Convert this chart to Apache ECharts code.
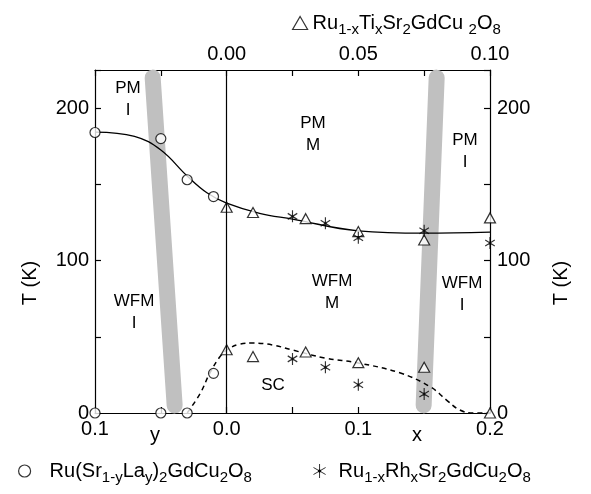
<!DOCTYPE html>
<html>
<head>
<meta charset="utf-8">
<script src="https://cdn.jsdelivr.net/npm/echarts@6/dist/echarts.min.js"></script>
<style>html,body{margin:0;padding:0;background:#fff}#chart{width:591px;height:494px}</style>
</head>
<body>
<div id="chart"></div>
<script>
// Ru(Sr1-yLay)2GdCu2O8 : y runs leftwards from 0, drawn as -y
const laY = [0.1, 0.05, 0.03, 0.01];
const laTm = [184, 180, 153, 142];
const laTc = [0, 0, 0, 26];
// Ru1-xTixSr2GdCu2O8 : top axis
const tiX = [0, 0.01, 0.03, 0.05, 0.075, 0.1];
const tiTm = [135, 131.5, 127.5, 119, 113.5, 128];
const tiTc = [41.5, 37, 40, 33, 30, 0];
// Ru1-xRhxSr2GdCu2O8 : bottom axis
const rhX = [0.05, 0.075, 0.1, 0.15, 0.2];
const rhTm = [129, 124.5, 115, 119.5, 111.5];
const rhXsc = [0.05, 0.075, 0.1, 0.15];
const rhTc = [35.5, 30, 18.5, 12.5];
// guide curves
const tmCurveX = [-0.1, -0.07, -0.05, -0.03, -0.015, 0, 0.025, 0.05, 0.1, 0.15, 0.2];
const tmCurveT = [184.3, 181.5, 172.5, 155.5, 144.5, 137.7, 131, 127.2, 119.5, 118, 118.7];
const tcCurveX = [-0.03, -0.02, -0.0129, -0.0053, 0, 0.0099, 0.0197, 0.035, 0.05, 0.075, 0.1, 0.132, 0.155, 0.167, 0.177, 0.187, 0.2];
const tcCurveT = [0, 13, 26, 36.7, 41.3, 45.2, 45.9, 44.6, 41.3, 36, 32.8, 26.2, 17, 8.5, 2, 0, 0];
// metal / insulator boundaries (grey bands)
const leftBandX = [-0.0395, -0.0562];
const rightBandX = [0.1496, 0.1595];
const bandT = [5, 220];
// tick labels
const bottomTicks = [-0.1, 0, 0.1, 0.2];
const topTicks = [0, 0.05, 0.1];
const tTicks = [0, 100, 200];

const FONT = '"Liberation Sans", Arial, sans-serif';
const near = (v, arr) => arr.some(a => Math.abs(a - v) < 1e-6);
const zip = (xs, ys) => xs.map((x, i) => [x, ys[i]]);
const rich = {
  s: { fontSize: 15, fontFamily: FONT, color: '#000', padding: [14, 0, 0, 0] }
};
const ASTER = 'path://M0,-1L0,1M-0.866,-0.5L0.866,0.5M-0.866,0.5L0.866,-0.5M-0.18,0A0.18,0.18 0 1 1 0.18,0A0.18,0.18 0 1 1 -0.18,0Z';
const axisBase = {
  axisLine: { onZero: false, lineStyle: { color: '#000', width: 1.2 } },
  axisTick: { inside: true, length: 6, lineStyle: { color: '#000', width: 1.2 } },
  splitLine: { show: false },
  axisLabel: { color: '#000', fontSize: 20, fontFamily: FONT, showMinLabel: true, showMaxLabel: true }
};
const openStyle = { color: '#fff', borderColor: '#000', borderWidth: 1.2 };

const chart = echarts.init(document.getElementById('chart'));
chart.setOption({
  animation: false,
  textStyle: { fontFamily: FONT },
  grid: { left: 95, right: 101, top: 70, bottom: 81 },
  xAxis: [
    Object.assign({}, axisBase, {
      type: 'value', position: 'bottom', min: -0.1, max: 0.2, interval: 0.05,
      axisLabel: Object.assign({}, axisBase.axisLabel, { margin: 6,
        formatter: v => near(v, bottomTicks) ? Math.abs(v).toFixed(1) : '' })
    }),
    Object.assign({}, axisBase, {
      type: 'value', position: 'top', min: -0.05, max: 0.1, interval: 0.025,
      axisLabel: Object.assign({}, axisBase.axisLabel, { margin: 6,
        formatter: v => near(v, topTicks) ? Math.abs(v).toFixed(2) : '' })
    })
  ],
  yAxis: [
    Object.assign({}, axisBase, {
      type: 'value', position: 'left', min: 0, max: 225, interval: 50,
      axisLabel: Object.assign({}, axisBase.axisLabel, { margin: 6,
        formatter: v => near(v, tTicks) ? String(v) : '' })
    }),
    Object.assign({}, axisBase, {
      type: 'value', position: 'right', min: 0, max: 225, interval: 50,
      axisLabel: Object.assign({}, axisBase.axisLabel, { margin: 7,
        formatter: v => near(v, tTicks) ? String(v) : '' })
    })
  ],
  legend: [
    {
      data: [{ name: 'Ti', itemStyle: openStyle }],
      left: 287, top: 8, itemWidth: 15, itemHeight: 13, selectedMode: false,
      formatter: () => 'Ru{s|1-x}Ti{s|x}Sr{s|2}GdCu {s|2}O{s|8}',
      textStyle: { fontSize: 20, fontFamily: FONT, color: '#000', rich: rich }
    },
    {
      data: [{ name: 'La', itemStyle: openStyle }],
      left: 13, top: 456, itemWidth: 40, itemHeight: 12, selectedMode: false,
      formatter: () => 'Ru(Sr{s|1-y}La{s|y}){s|2}GdCu{s|2}O{s|8}',
      textStyle: { fontSize: 20, fontFamily: FONT, color: '#000', rich: rich }
    },
    {
      data: [{ name: 'Rh', itemStyle: { color: '#000', borderColor: '#000', borderWidth: 1 } }],
      left: 308, top: 456, itemWidth: 28, itemHeight: 14, selectedMode: false,
      formatter: () => 'Ru{s|1-x}Rh{s|x}Sr{s|2}GdCu{s|2}O{s|8}',
      textStyle: { fontSize: 20, fontFamily: FONT, color: '#000', rich: rich }
    }
  ],
  series: [
    { type: 'line', z: 1, data: zip(leftBandX, bandT), symbol: 'none', silent: true,
      lineStyle: { color: '#c0c0c0', width: 16, cap: 'round' } },
    { type: 'line', z: 1, data: zip(rightBandX, bandT), symbol: 'none', silent: true,
      lineStyle: { color: '#c0c0c0', width: 16, cap: 'round' } },
    { type: 'line', data: zip(tmCurveX, tmCurveT), symbol: 'none', smooth: 0.4,
      lineStyle: { color: '#000', width: 1.3 },
      markLine: { symbol: 'none', silent: true, label: { show: false },
        lineStyle: { color: '#000', width: 1.2, type: 'solid' }, data: [{ xAxis: 0 }] } },
    { type: 'line', data: zip(tcCurveX, tcCurveT), symbol: 'none', smooth: 0.4,
      lineStyle: { color: '#000', width: 1.5, type: [5, 4] } },
    { name: 'La', type: 'scatter', z: 3, symbol: 'circle', symbolSize: 10, itemStyle: openStyle,
      data: zip(laY.map(v => -v), laTm).concat(zip(laY.map(v => -v), laTc)) },
    { name: 'Ti', type: 'scatter', z: 3, xAxisIndex: 1, symbol: 'triangle', symbolSize: [11, 10], itemStyle: openStyle,
      data: zip(tiX, tiTm).concat(zip(tiX, tiTc)) },
    { name: 'Rh', type: 'scatter', z: 3, symbol: ASTER, symbolSize: [11, 12], symbolKeepAspect: true,
      itemStyle: { color: '#000', borderColor: '#000', borderWidth: 1.2 },
      data: zip(rhX, rhTm).concat(zip(rhXsc, rhTc)) }
  ],
  graphic: [
    { type: 'text', x: 128, y: 99, style: { text: 'PM\nI', font: '17px ' + FONT, lineHeight: 22, align: 'center', verticalAlign: 'middle', fill: '#000' } },
    { type: 'text', x: 313, y: 134, style: { text: 'PM\nM', font: '17px ' + FONT, lineHeight: 22, align: 'center', verticalAlign: 'middle', fill: '#000' } },
    { type: 'text', x: 465, y: 151, style: { text: 'PM\nI', font: '17px ' + FONT, lineHeight: 22, align: 'center', verticalAlign: 'middle', fill: '#000' } },
    { type: 'text', x: 134, y: 312, style: { text: 'WFM\nI', font: '17px ' + FONT, lineHeight: 22, align: 'center', verticalAlign: 'middle', fill: '#000' } },
    { type: 'text', x: 332, y: 292, style: { text: 'WFM\nM', font: '17px ' + FONT, lineHeight: 22, align: 'center', verticalAlign: 'middle', fill: '#000' } },
    { type: 'text', x: 462, y: 294, style: { text: 'WFM\nI', font: '17px ' + FONT, lineHeight: 22, align: 'center', verticalAlign: 'middle', fill: '#000' } },
    { type: 'text', x: 273, y: 385, style: { text: 'SC', font: '17px ' + FONT, align: 'center', verticalAlign: 'middle', fill: '#000' } },
    { type: 'text', x: 155, y: 435, style: { text: 'y', font: '20px ' + FONT, align: 'center', verticalAlign: 'middle', fill: '#000' } },
    { type: 'text', x: 417, y: 435, style: { text: 'x', font: '20px ' + FONT, align: 'center', verticalAlign: 'middle', fill: '#000' } },
    { type: 'text', x: 30, y: 283, rotation: Math.PI / 2, style: { text: 'T (K)', font: '20px ' + FONT, align: 'center', verticalAlign: 'middle', fill: '#000' } },
    { type: 'text', x: 561, y: 283, rotation: Math.PI / 2, style: { text: 'T (K)', font: '20px ' + FONT, align: 'center', verticalAlign: 'middle', fill: '#000' } }
  ]
});
</script>
</body>
</html>
